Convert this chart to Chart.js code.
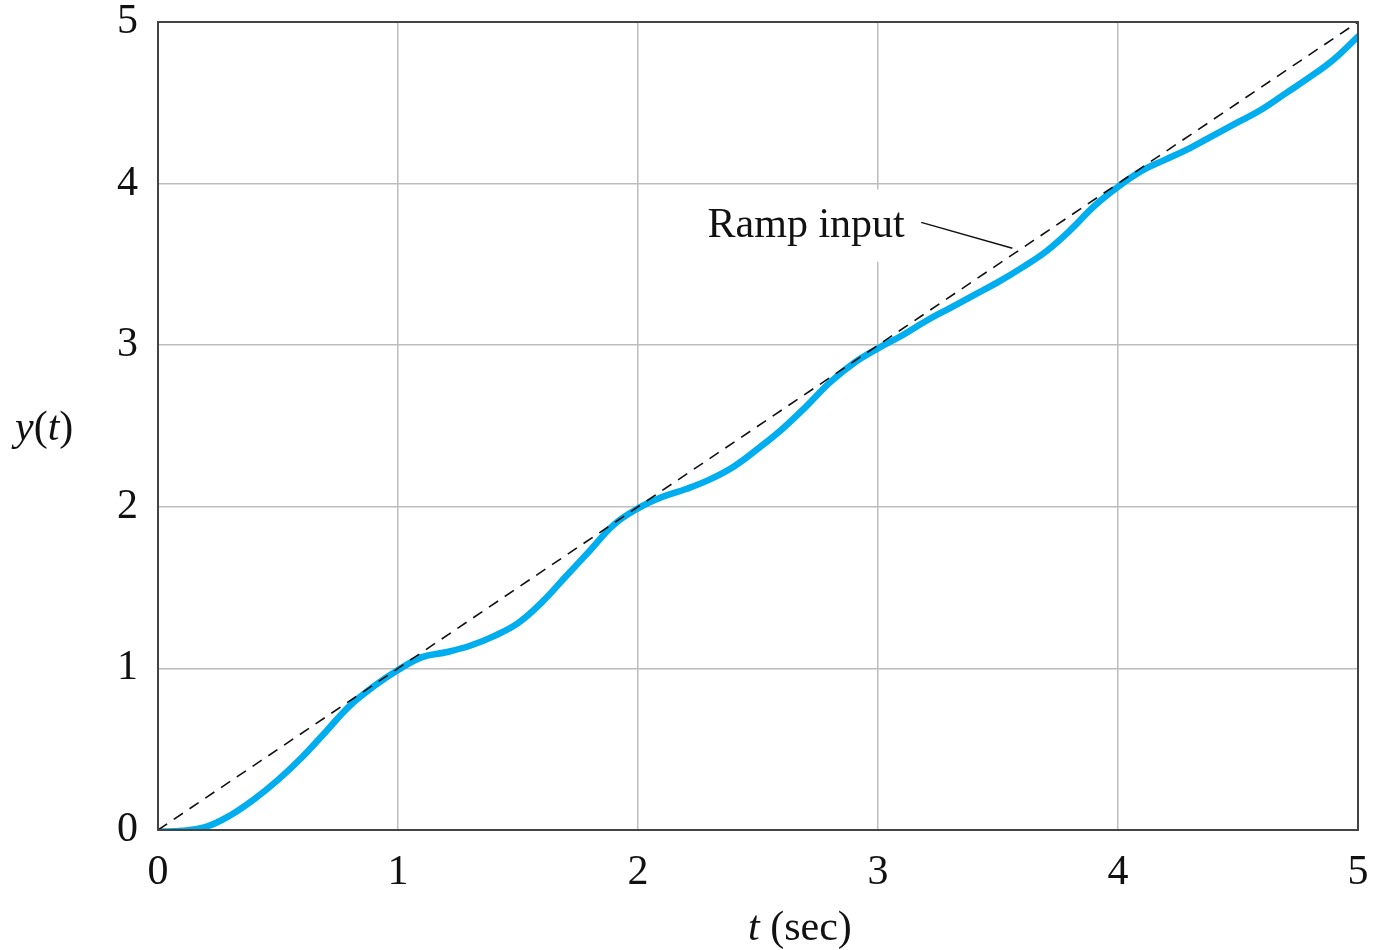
<!DOCTYPE html>
<html>
<head>
<meta charset="utf-8">
<script src="https://cdn.jsdelivr.net/npm/chart.js@4/dist/chart.umd.min.js"></script>
<style>
  html, body { margin: 0; padding: 0; background: #fff; }
  #wrap { width: 1375px; height: 950px; }
</style>
</head>
<body>
<div id="wrap"><canvas id="ramp"></canvas></div>
<script>
    // response
    const timeValues = [0, 0.1, 0.2, 0.3, 0.4, 0.5, 0.6, 0.7, 0.8, 0.9, 1.0,
        1.1, 1.2, 1.3, 1.4, 1.5, 1.6, 1.7, 1.8, 1.9, 2.0,
        2.1, 2.2, 2.3, 2.4, 2.5, 2.6, 2.7, 2.8, 2.9, 3.0,
        3.1, 3.2, 3.3, 3.4, 3.5, 3.6, 3.7, 3.8, 3.9, 4.0,
        4.1, 4.2, 4.3, 4.4, 4.5, 4.6, 4.7, 4.8, 4.9, 5.0];
    const responseValues = [-0.01, -0.005, 0.02, 0.09, 0.19, 0.31, 0.45, 0.61, 0.77, 0.89, 0.99,
        1.07, 1.10, 1.14, 1.20, 1.28, 1.41, 1.57, 1.73, 1.89, 1.99,
        2.06, 2.11, 2.17, 2.25, 2.36, 2.48, 2.62, 2.77, 2.89, 2.98,
        3.06, 3.15, 3.23, 3.31, 3.39, 3.48, 3.58, 3.71, 3.86, 3.98,
        4.08, 4.15, 4.22, 4.30, 4.38, 4.46, 4.56, 4.66, 4.77, 4.91];

    const rampTime = [0, 5];
    const rampValues = [0, 5];

    const xTicks = [0, 1, 2, 3, 4, 5];
    const yTicks = [0, 1, 2, 3, 4, 5];

    // annotation, in data units
    const rampLabel = 'Ramp input';
    const rampLabelAt = { x: 2.29, y: 3.74 };
    const leaderFrom = { x: 3.18, y: 3.76 };
    const leaderTo = { x: 3.56, y: 3.60 };

    const SERIF = '"Liberation Serif", "DejaVu Serif", serif';

    const responseData = timeValues.map((t, i) => ({ x: t, y: responseValues[i] }));
    const rampData = rampTime.map((t, i) => ({ x: t, y: rampValues[i] }));

    const decorPlugin = {
        id: 'decor',
        beforeDatasetsDraw(chart) {
            const ctx = chart.ctx;
            const xs = chart.scales.x, ys = chart.scales.y;
            // white box behind the label (cuts the grid line)
            ctx.save();
            ctx.fillStyle = '#fff';
            ctx.fillRect(xs.getPixelForValue(rampLabelAt.x) - 8, ys.getPixelForValue(rampLabelAt.y) - 36,
                216, 72);
            ctx.restore();
        },
        afterDraw(chart) {
            const ctx = chart.ctx;
            const a = chart.chartArea;
            const xs = chart.scales.x, ys = chart.scales.y;
            ctx.save();
            // frame
            ctx.strokeStyle = '#444';
            ctx.lineWidth = 2;
            ctx.strokeRect(a.left, a.top, a.right - a.left, a.bottom - a.top);

            // label + leader line
            ctx.fillStyle = '#111';
            ctx.font = '42px ' + SERIF;
            ctx.textBaseline = 'middle';
            ctx.textAlign = 'left';
            ctx.fillText(rampLabel, xs.getPixelForValue(rampLabelAt.x), ys.getPixelForValue(rampLabelAt.y));
            ctx.strokeStyle = '#111';
            ctx.lineWidth = 1.5;
            ctx.beginPath();
            ctx.moveTo(xs.getPixelForValue(leaderFrom.x), ys.getPixelForValue(leaderFrom.y));
            ctx.lineTo(xs.getPixelForValue(leaderTo.x), ys.getPixelForValue(leaderTo.y));
            ctx.stroke();

            // axis titles with italic variables
            ctx.textBaseline = 'alphabetic';
            const drawParts = (parts, x, y) => {
                let cx = x;
                parts.forEach(p => {
                    ctx.font = (p[1] ? 'italic ' : '') + '42px ' + SERIF;
                    ctx.fillText(p[0], cx, y);
                    cx += ctx.measureText(p[0]).width;
                });
            };
            drawParts([['t', true], [' (sec)', false]], 748, 940);
            drawParts([['y', true], ['(', false], ['t', true], [')', false]], 15, 440);
            ctx.restore();
        }
    };

    new Chart(document.getElementById('ramp').getContext('2d'), {
        type: 'scatter',
        data: {
            datasets: [
                {
                    label: 'Ramp input',
                    data: rampData,
                    showLine: true,
                    borderColor: '#111',
                    borderWidth: 1.6,
                    borderDash: [11, 8],
                    pointRadius: 0
                },
                {
                    label: 'y(t)',
                    data: responseData,
                    showLine: true,
                    borderColor: 'rgb(0, 174, 239)',
                    borderWidth: 6.5,
                    tension: 0.4,
                    borderCapStyle: 'round',
                    pointRadius: 0
                }
            ]
        },
        options: {
            responsive: true,
            maintainAspectRatio: false,
            animation: false,
            layout: { padding: { top: 22, right: 17, left: 0, bottom: 0 } },
            plugins: {
                legend: { display: false },
                tooltip: { enabled: false }
            },
            scales: {
                x: {
                    type: 'linear',
                    min: 0,
                    max: 5,
                    afterBuildTicks: s => { s.ticks = xTicks.map(v => ({ value: v })); },
                    afterFit: s => { s.height = 120; s.paddingLeft = 0; s.paddingRight = 0; },
                    grid: { color: '#bdbdbd', lineWidth: 1.5, drawTicks: false },
                    border: { display: false },
                    ticks: {
                        color: '#111',
                        font: { family: SERIF, size: 42 },
                        padding: 18,
                        maxRotation: 0
                    }
                },
                y: {
                    type: 'linear',
                    min: 0,
                    max: 5,
                    afterBuildTicks: s => { s.ticks = yTicks.map(v => ({ value: v })); },
                    afterFit: s => { s.width = 158; s.paddingTop = 0; s.paddingBottom = 0; },
                    grid: { color: '#bdbdbd', lineWidth: 1.5, drawTicks: false },
                    border: { display: false },
                    ticks: {
                        color: '#111',
                        font: { family: SERIF, size: 42 },
                        padding: 20
                    }
                }
            }
        },
        plugins: [decorPlugin]
    });
</script>
</body>
</html>
